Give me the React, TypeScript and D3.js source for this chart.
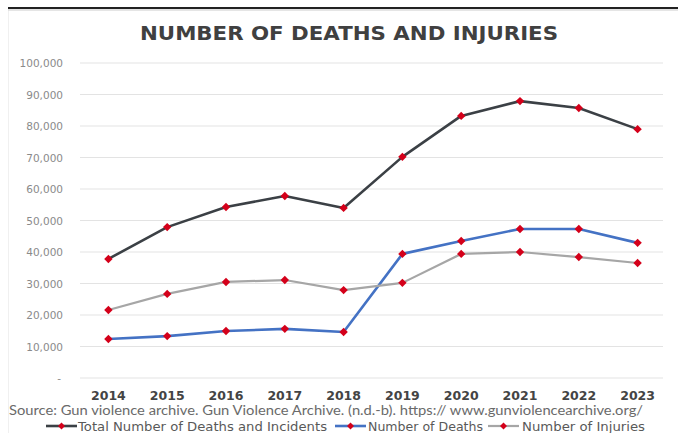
import React from "react";
import * as d3 from "d3";

const years = ["2014", "2015", "2016", "2017", "2018", "2019", "2020", "2021", "2022", "2023"];
const totalValues = [37800, 47900, 54300, 57800, 54000, 70200, 83200, 87900, 85700, 79000];
const deathValues = [12400, 13300, 14900, 15600, 14600, 39400, 43500, 47300, 47300, 42900];
const injuryValues = [21600, 26700, 30500, 31100, 27900, 30200, 39400, 40000, 38400, 36500];
const yTicks = [0, 10000, 20000, 30000, 40000, 50000, 60000, 70000, 80000, 90000, 100000];

const titleText = "NUMBER OF DEATHS AND INJURIES";
const sourceText = "Source: Gun violence archive. Gun Violence Archive. (n.d.-b). https://  www.gunviolencearchive.org/";
const legendLabels = ["Total Number of Deaths and Incidents", "Number of Deaths", "Number of Injuries"];

const W = 678;
const H = 433;

const series = [
  { name: legendLabels[0], values: totalValues, color: "#3b4045", width: 2.6 },
  { name: legendLabels[1], values: deathValues, color: "#4472c4", width: 2.6 },
  { name: legendLabels[2], values: injuryValues, color: "#a6a6a6", width: 2.2 },
];

const legendLayout = [
  { lineX: 46, textX: 78, textLen: 249 },
  { lineX: 335, textX: 368, textLen: 115 },
  { lineX: 488, textX: 522, textLen: 123 },
];

function Diamond({ x, y, r = 4 }: { x: number; y: number; r?: number }) {
  return (
    <path
      d={`M${x},${y - r}L${x + r},${y}L${x},${y + r}L${x - r},${y}Z`}
      fill="#d4001a"
    />
  );
}

export default function App() {
  const x = d3.scalePoint<string>().domain(years).range([79, 667]).padding(0.5);
  const y = d3.scaleLinear().domain([0, 100000]).range([378, 63]);
  const fmt = d3.format(",");
  const line = d3
    .line<number>()
    .x((_, i) => x(years[i]) as number)
    .y((d) => y(d));

  return (
    <svg
      width={W}
      height={H}
      style={{ position: "absolute", left: 0, top: 0, background: "#ffffff" }}
    >
      <rect x={0} y={0} width={W} height={H} fill="#ffffff" />
      {/* frame */}
      <rect x={8.5} y={9} width={W} height={H} fill="none" stroke="#f0f0f0" strokeWidth={1} />
      <line x1={8} x2={W} y1={8} y2={8} stroke="#222222" strokeWidth={1.8} />
      <line x1={8} x2={W} y1={10} y2={10} stroke="#dddddd" strokeWidth={1.5} />

      {/* title */}
      <text
        x={349}
        y={40}
        textAnchor="middle"
        fontFamily="DejaVu Sans"
        fontWeight="bold"
        fontSize={19}
        fill="#404040"
        textLength={418}
        lengthAdjust="spacingAndGlyphs"
      >
        {titleText}
      </text>

      {/* gridlines */}
      {yTicks.map((t) => (
        <line
          key={"g" + t}
          x1={80}
          x2={663}
          y1={y(t)}
          y2={y(t)}
          stroke="#e3e3e3"
          strokeWidth={1}
        />
      ))}

      {/* y tick labels */}
      {yTicks.map((t) => (
        <text
          key={"t" + t}
          x={t === 0 ? 61 : 63}
          y={y(t) + 4}
          textAnchor="end"
          fontFamily="DejaVu Sans"
          fontSize={10.5}
          fill="#8a8a8a"
        >
          {t === 0 ? "-" : fmt(t)}
        </text>
      ))}

      {/* x labels */}
      {years.map((yr) => (
        <text
          key={"x" + yr}
          x={x(yr) as number}
          y={400}
          textAnchor="middle"
          fontFamily="DejaVu Sans"
          fontWeight="bold"
          fontSize={12.5}
          fill="#444444"
        >
          {yr}
        </text>
      ))}

      {/* lines */}
      {series.map((s) => (
        <path
          key={"l" + s.name}
          d={line(s.values) || ""}
          fill="none"
          stroke={s.color}
          strokeWidth={s.width}
          strokeLinejoin="round"
        />
      ))}
      {series.map((s) =>
        s.values.map((v, i) => (
          <Diamond key={s.name + i} x={x(years[i]) as number} y={y(v)} r={4.2} />
        ))
      )}

      {/* source */}
      <text
        x={9}
        y={415}
        fontFamily="Lato"
        fontSize={13.5}
        fill="#6a6a6a"
        textLength={634}
        lengthAdjust="spacingAndGlyphs"
      >
        {sourceText}
      </text>

      {/* legend */}
      {series.map((s, i) => {
        const L = legendLayout[i];
        return (
          <g key={"lg" + i}>
            <line
              x1={L.lineX}
              x2={L.lineX + 31}
              y1={426}
              y2={426}
              stroke={s.color}
              strokeWidth={s.width}
            />
            <Diamond x={L.lineX + 15.5} y={426} r={3.5} />
            <text
              x={L.textX}
              y={430.5}
              fontFamily="DejaVu Sans"
              fontSize={12}
              fill="#595959"
              textLength={L.textLen}
              lengthAdjust="spacingAndGlyphs"
            >
              {s.name}
            </text>
          </g>
        );
      })}
    </svg>
  );
}
